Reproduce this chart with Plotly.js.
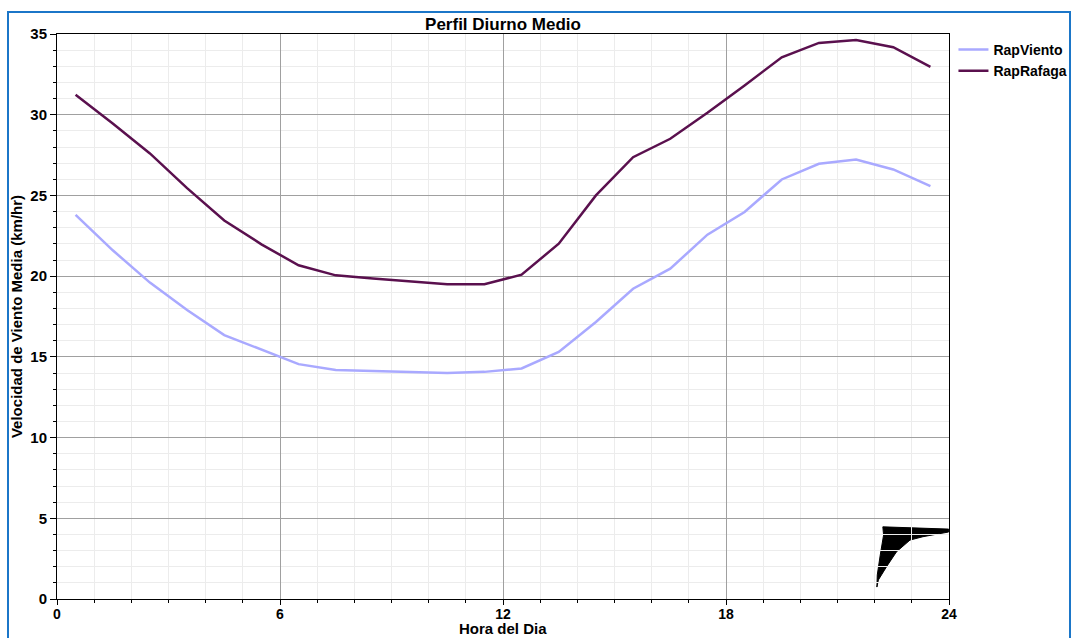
<!DOCTYPE html>
<html>
<head>
<meta charset="utf-8">
<script src="https://cdn.plot.ly/plotly-3.0.1.min.js"></script>
<style>
  html, body { margin:0; padding:0; background:#fff; }
  #frame { position:absolute; left:7px; top:11px; width:1064px; height:640px; border:2px solid #1b76c8; box-sizing:border-box; pointer-events:none; z-index:5; }
  #chart { position:absolute; left:0; top:0; width:1075px; height:638px; }
</style>
</head>
<body>
<div id="chart"></div>
<div id="frame"></div>
<script>
// Hour of day (mid-hour positions)
const hours = [0.5,1.5,2.5,3.5,4.5,5.5,6.5,7.5,8.5,9.5,10.5,11.5,12.5,13.5,14.5,15.5,16.5,17.5,18.5,19.5,20.5,21.5,22.5,23.5];
// Mean wind speed (km/hr)
const rapViento = [23.8,21.6,19.6,17.9,16.35,15.45,14.55,14.18,14.11,14.07,14.0,14.07,14.28,15.3,17.16,19.22,20.46,22.57,23.97,25.99,26.96,27.23,26.61,25.58];
// Mean gust speed (km/hr)
const rapRafaga = [31.23,29.45,27.6,25.45,23.45,21.97,20.67,20.05,19.85,19.68,19.5,19.5,20.09,22.01,25.0,27.37,28.51,30.12,31.81,33.56,34.45,34.63,34.18,32.96];

const seriesNames = ['RapViento','RapRafaga'];
const xTicks = [0,6,12,18,24];
const yTicks = [0,5,10,15,20,25,30,35];

const FONT = 'Liberation Sans, Arial, sans-serif';

const traces = [
  {x:hours, y:rapViento, name:'<b>'+seriesNames[0]+'</b>', type:'scatter', mode:'lines',
   line:{color:'#a9a9ff', width:2.5}},
  {x:hours, y:rapRafaga, name:'<b>'+seriesNames[1]+'</b>', type:'scatter', mode:'lines',
   line:{color:'#5a104e', width:2.5}}
];

// logo glyph (decorative) in bottom-right
const logoPath = 'M 22.22 4.47 L 23.99 4.33 L 23.99 4.15 L 23.3 3.86 L 22.95 3.65 L 22.59 2.93 L 22.32 2.0 L 22.1 1.18 L 22.06 0.74 L 22.07 1.49 L 22.15 2.72 L 22.24 3.96 Z';

const layout = {
  width:1075, height:638,
  margin:{l:57, r:126, t:34, b:39, autoexpand:false},
  paper_bgcolor:'#fff', plot_bgcolor:'#fff',
  font:{family:FONT, color:'#000', size:14},
  title:{text:'<b>Perfil Diurno Medio</b>', font:{family:FONT, size:17, color:'#000'},
         x:0.5, xref:'paper', xanchor:'center', y:1, yref:'paper', yanchor:'bottom', pad:{b:4}},
  xaxis:{range:[0,24], tickvals:xTicks, ticktext:xTicks.map(v=>'<b>'+v+'</b>'),
         showgrid:true, gridcolor:'#a0a0a0', gridwidth:1,
         showline:true, linecolor:'#000', linewidth:1, mirror:true,
         ticks:'outside', ticklen:5, tickcolor:'#000',
         tickfont:{family:FONT, size:14, color:'#000'},
         ticklabelstandoff:-3,
         zeroline:false,
         minor:{dtick:1, showgrid:true, gridcolor:'#ececec', gridwidth:1, ticks:'outside', ticklen:3, tickcolor:'#000'}},
  yaxis:{range:[0,35], tickvals:yTicks, ticktext:yTicks.map(v=>'<b>'+v+'</b>'),
         showgrid:true, gridcolor:'#a0a0a0', gridwidth:1,
         showline:true, linecolor:'#000', linewidth:1, mirror:true,
         ticks:'outside', ticklen:6, tickcolor:'#000',
         tickfont:{family:FONT, size:15, color:'#000'},
         zeroline:false,
         minor:{dtick:1, showgrid:true, gridcolor:'#ececec', gridwidth:1, ticks:'outside', ticklen:3, tickcolor:'#000'},
         title:{text:'<b>Velocidad de Viento Media (km/hr)</b>', font:{family:FONT, size:15, color:'#000'}, standoff:4}},
  annotations:[{text:'<b>Hora del Dia</b>', xref:'paper', yref:'paper', x:0.5, y:-39/565,
                xanchor:'center', yanchor:'bottom', showarrow:false, borderpad:0,
                font:{family:FONT, size:15, color:'#000'}}],
  legend:{x:1.005, xanchor:'left', y:1, yanchor:'top', bgcolor:'rgba(0,0,0,0)',
          font:{family:FONT, size:14, color:'#000'}, itemwidth:30, tracegroupgap:0},
  showlegend:true,
  shapes:[{type:'path', xref:'x', yref:'y', path:logoPath, fillcolor:'#000', line:{color:'#000', width:1}, layer:'below'}]
};

Plotly.newPlot('chart', traces, layout, {displayModeBar:false, staticPlot:true});
</script>
</body>
</html>
